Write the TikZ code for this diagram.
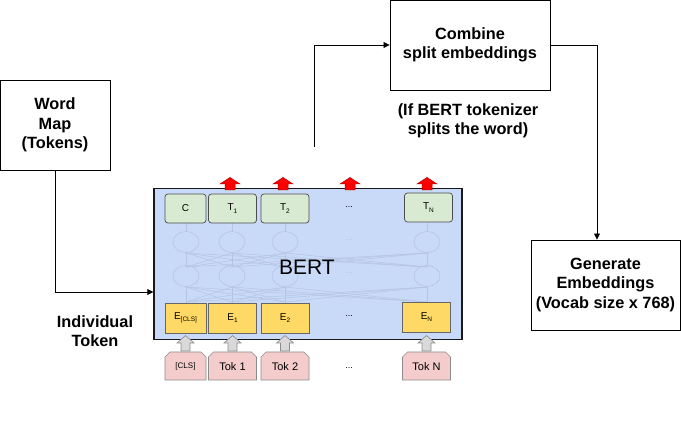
\documentclass[tikz,border=0pt]{standalone}
\usepackage{fontspec}
\setmainfont{Liberation Sans}
\usetikzlibrary{arrows.meta,shapes.geometric,shapes.arrows}
\definecolor{bertblue}{HTML}{C9DAF8}
\definecolor{tgreen}{HTML}{D9EAD3}
\definecolor{eyellow}{HTML}{FFD966}
\definecolor{tokpink}{HTML}{F4CCCC}
\definecolor{faint}{HTML}{B4C4E2}
\definecolor{redarrow}{HTML}{FF0000}
\definecolor{redline}{HTML}{B00000}
\definecolor{grayarrow}{HTML}{D9D9D9}
\newcommand{\sbs}[1]{\raisebox{-2.2pt}{\fontsize{6.5}{7}\selectfont #1}}
\begin{document}
\begin{tikzpicture}[x=1pt,y=-1pt,
  bigtext/.style={align=center,font=\bfseries\fontsize{16.3}{19.5}\selectfont},
  plainbox/.style={bigtext,draw=black,line width=0.9pt,fill=white,minimum width=#1,inner sep=0pt},
  conn/.style={draw=black,line width=0.8pt},
  arr/.style={conn,-{Triangle[length=6pt,width=6pt]}},
  tbox/.style={draw=black!70,line width=0.7pt,fill=tgreen,rounded corners=3pt,minimum width=48pt,minimum height=29pt,inner sep=0pt,font=\fontsize{10}{11}\selectfont},
  ebox/.style={draw=black!60,line width=0.6pt,fill=eyellow,minimum width=48pt,minimum height=30pt,inner sep=0pt,font=\fontsize{10}{11}\selectfont},
  dots/.style={font=\fontsize{9}{10}\selectfont},
  faintline/.style={draw=faint,line width=0.5pt},
  faintell/.style={draw=faint,line width=0.6pt,ellipse,minimum width=26pt,minimum height=21pt,inner sep=0pt},
  redup/.style={draw=redline,line width=0.5pt,fill=redarrow},
  grayup/.style={draw=black!45,line width=0.6pt,fill=grayarrow}
]
\useasboundingbox (0,0) rectangle (681,438);
% Word map
\node[plainbox=110pt,minimum height=90pt] (word) at (55,125) {Word\\Map\\(Tokens)};
% Combine
\node[plainbox=160pt,minimum height=90pt] (comb) at (470,45) {Combine\\split embeddings};
\node[bigtext] (ifb) at (468,121) {(If BERT tokenizer\\splits the word)};
% Generate
\node[plainbox=149pt,minimum height=90pt] (gen) at (605.5,285) {Generate\\Embeddings\\(Vocab size x 768)};
\node[bigtext] (ind) at (95,331) {Individual\\Token};
% BERT box
\node[draw=black!90,line width=1.4pt,fill=bertblue,minimum width=308pt,minimum height=151pt,inner sep=0pt] (bert) at (308,264) {};
% faint network
\foreach \i in {186,232,285,427}{
  \node[faintell] (a\i) at (\i,242) {};
  \node[faintell] (b\i) at (\i,276) {};
  \draw[faintline] (\i,303) -- (b\i.south);
  \draw[faintline] (b\i.north) -- (a\i.south);
  \draw[faintline] (a\i.north) -- (\i,223);
  \foreach \j in {186,232,285,427}{
    \draw[faintline] (\i,302) -- (\j,287);
    \draw[faintline] (\i,267) -- (\j,253);
  }
}
\node[dots,text=faint] (fd1) at (349,240) {...};
\node[dots,text=faint] (fd2) at (349,273) {...};
\node[font=\fontsize{21}{24}\selectfont] (berttxt) at (307,267) {BERT};
% T row
\node[tbox,minimum width=41pt] (c) at (185.5,208.5) {C};
\node[tbox] (t1) at (232.5,208.5) {T\sbs{1}};
\node[tbox] (t2) at (285,208.5) {T\sbs{2}};
\node[dots] (tdots) at (349,207) {...};
\node[tbox] (tn) at (428.5,207.5) {T\sbs{N}};
% E row
\node[ebox,minimum width=41pt] (ecls) at (185.5,318) {E\sbs{[CLS]}};
\node[ebox] (e1) at (232.5,318) {E\sbs{1}};
\node[ebox] (e2) at (285,318) {E\sbs{2}};
\node[dots] (edots) at (349,316) {...};
\node[ebox] (en) at (426.5,317) {E\sbs{N}};
% Tok row
\foreach \n/\x/\w/\t/\fs in {tcls/185.5/41/{[CLS]}/8, tok1/232.5/48/{Tok 1}/11, tok2/285/48/{Tok 2}/11, tokn/426.5/48/{Tok N}/11}{
  \pgfmathsetmacro{\xl}{\x-\w/2}
  \pgfmathsetmacro{\xr}{\x+\w/2}
  \draw[draw=black!45,line width=0.6pt,fill=tokpink] (\xl,380) -- (\xl,357) -- (\xl+5,352) -- (\xr-5,352) -- (\xr,357) -- (\xr,380) -- cycle;
  \node[font=\fontsize{\fs}{12}\selectfont] (\n) at (\x,366.5) {\t};
}
\node[dots] (tokdots) at (349,368) {...};
% gray up arrows
\foreach \x in {185.5,232.5,285,426.5}{
  \draw[grayup] (\x-4.5,351) -- (\x-4.5,343) -- (\x-8.5,343) -- (\x,335.5) -- (\x+8.5,343) -- (\x+4.5,343) -- (\x+4.5,351) -- cycle;
}
% red up arrows
\foreach \x in {230,283,350,427}{
  \draw[redup] (\x-5,190) -- (\x-5,184) -- (\x-10,184) -- (\x,177.5) -- (\x+10,184) -- (\x+5,184) -- (\x+5,190) -- cycle;
}
% connectors
\coordinate (bstart) at (314,147);
\draw[arr] (word.south) |- (bert.west |- 0,292);
\draw[arr] (bstart) |- (comb.west);
\draw[arr] (comb.east) -| (gen.north -| 597,0);
\end{tikzpicture}
\end{document}
